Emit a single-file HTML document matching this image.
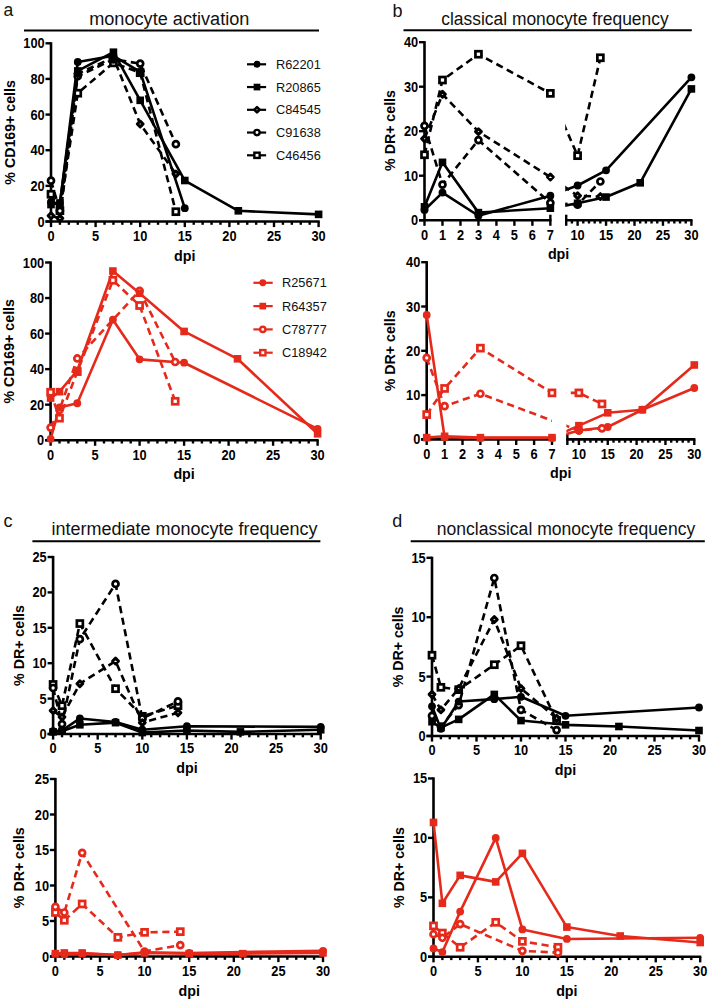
<!DOCTYPE html>
<html><head><meta charset="utf-8"><title>figure</title>
<style>
html,body{margin:0;padding:0;background:#fff;}
svg{display:block;}
text{font-family:"Liberation Sans", sans-serif;}
</style></head>
<body>
<svg width="709" height="1001" viewBox="0 0 709 1001" font-family='"Liberation Sans", sans-serif'>
<rect width="709" height="1001" fill="#fff"/>
<line x1="51" y1="42.2" x2="51" y2="221.5" stroke="#000" stroke-width="2.6"/>
<line x1="45.5" y1="221.5" x2="319.7" y2="221.5" stroke="#000" stroke-width="2.6"/>
<line x1="45.5" y1="221.5" x2="51" y2="221.5" stroke="#000" stroke-width="2.4"/>
<text transform="translate(44.6 226.5) scale(1 1.1)" font-size="12.8" font-weight="bold" text-anchor="end">0</text>
<line x1="45.5" y1="185.86" x2="51" y2="185.86" stroke="#000" stroke-width="2.4"/>
<text transform="translate(44.6 190.86) scale(1 1.1)" font-size="12.8" font-weight="bold" text-anchor="end">20</text>
<line x1="45.5" y1="150.22" x2="51" y2="150.22" stroke="#000" stroke-width="2.4"/>
<text transform="translate(44.6 155.22) scale(1 1.1)" font-size="12.8" font-weight="bold" text-anchor="end">40</text>
<line x1="45.5" y1="114.58" x2="51" y2="114.58" stroke="#000" stroke-width="2.4"/>
<text transform="translate(44.6 119.58) scale(1 1.1)" font-size="12.8" font-weight="bold" text-anchor="end">60</text>
<line x1="45.5" y1="78.94" x2="51" y2="78.94" stroke="#000" stroke-width="2.4"/>
<text transform="translate(44.6 83.94) scale(1 1.1)" font-size="12.8" font-weight="bold" text-anchor="end">80</text>
<line x1="45.5" y1="43.3" x2="51" y2="43.3" stroke="#000" stroke-width="2.4"/>
<text transform="translate(44.6 48.3) scale(1 1.1)" font-size="12.8" font-weight="bold" text-anchor="end">100</text>
<line x1="51" y1="221.5" x2="51" y2="227.1" stroke="#000" stroke-width="2.4"/>
<text transform="translate(51 240.9) scale(1 1.1)" font-size="12.8" font-weight="bold" text-anchor="middle">0</text>
<line x1="59.92" y1="221.5" x2="59.92" y2="224.8" stroke="#000" stroke-width="2.4"/>
<line x1="68.84" y1="221.5" x2="68.84" y2="224.8" stroke="#000" stroke-width="2.4"/>
<line x1="77.76" y1="221.5" x2="77.76" y2="224.8" stroke="#000" stroke-width="2.4"/>
<line x1="86.68" y1="221.5" x2="86.68" y2="224.8" stroke="#000" stroke-width="2.4"/>
<line x1="95.6" y1="221.5" x2="95.6" y2="227.1" stroke="#000" stroke-width="2.4"/>
<text transform="translate(95.6 240.9) scale(1 1.1)" font-size="12.8" font-weight="bold" text-anchor="middle">5</text>
<line x1="104.52" y1="221.5" x2="104.52" y2="224.8" stroke="#000" stroke-width="2.4"/>
<line x1="113.44" y1="221.5" x2="113.44" y2="224.8" stroke="#000" stroke-width="2.4"/>
<line x1="122.36" y1="221.5" x2="122.36" y2="224.8" stroke="#000" stroke-width="2.4"/>
<line x1="131.28" y1="221.5" x2="131.28" y2="224.8" stroke="#000" stroke-width="2.4"/>
<line x1="140.2" y1="221.5" x2="140.2" y2="227.1" stroke="#000" stroke-width="2.4"/>
<text transform="translate(140.2 240.9) scale(1 1.1)" font-size="12.8" font-weight="bold" text-anchor="middle">10</text>
<line x1="149.12" y1="221.5" x2="149.12" y2="224.8" stroke="#000" stroke-width="2.4"/>
<line x1="158.04" y1="221.5" x2="158.04" y2="224.8" stroke="#000" stroke-width="2.4"/>
<line x1="166.96" y1="221.5" x2="166.96" y2="224.8" stroke="#000" stroke-width="2.4"/>
<line x1="175.88" y1="221.5" x2="175.88" y2="224.8" stroke="#000" stroke-width="2.4"/>
<line x1="184.8" y1="221.5" x2="184.8" y2="227.1" stroke="#000" stroke-width="2.4"/>
<text transform="translate(184.8 240.9) scale(1 1.1)" font-size="12.8" font-weight="bold" text-anchor="middle">15</text>
<line x1="193.72" y1="221.5" x2="193.72" y2="224.8" stroke="#000" stroke-width="2.4"/>
<line x1="202.64" y1="221.5" x2="202.64" y2="224.8" stroke="#000" stroke-width="2.4"/>
<line x1="211.56" y1="221.5" x2="211.56" y2="224.8" stroke="#000" stroke-width="2.4"/>
<line x1="220.48" y1="221.5" x2="220.48" y2="224.8" stroke="#000" stroke-width="2.4"/>
<line x1="229.4" y1="221.5" x2="229.4" y2="227.1" stroke="#000" stroke-width="2.4"/>
<text transform="translate(229.4 240.9) scale(1 1.1)" font-size="12.8" font-weight="bold" text-anchor="middle">20</text>
<line x1="238.32" y1="221.5" x2="238.32" y2="224.8" stroke="#000" stroke-width="2.4"/>
<line x1="247.24" y1="221.5" x2="247.24" y2="224.8" stroke="#000" stroke-width="2.4"/>
<line x1="256.16" y1="221.5" x2="256.16" y2="224.8" stroke="#000" stroke-width="2.4"/>
<line x1="265.08" y1="221.5" x2="265.08" y2="224.8" stroke="#000" stroke-width="2.4"/>
<line x1="274" y1="221.5" x2="274" y2="227.1" stroke="#000" stroke-width="2.4"/>
<text transform="translate(274 240.9) scale(1 1.1)" font-size="12.8" font-weight="bold" text-anchor="middle">25</text>
<line x1="282.92" y1="221.5" x2="282.92" y2="224.8" stroke="#000" stroke-width="2.4"/>
<line x1="291.84" y1="221.5" x2="291.84" y2="224.8" stroke="#000" stroke-width="2.4"/>
<line x1="300.76" y1="221.5" x2="300.76" y2="224.8" stroke="#000" stroke-width="2.4"/>
<line x1="309.68" y1="221.5" x2="309.68" y2="224.8" stroke="#000" stroke-width="2.4"/>
<line x1="318.6" y1="221.5" x2="318.6" y2="227.1" stroke="#000" stroke-width="2.4"/>
<text transform="translate(318.6 240.9) scale(1 1.1)" font-size="12.8" font-weight="bold" text-anchor="middle">30</text>
<text transform="translate(184.8 260.5) scale(1 1)" font-size="14.3" font-weight="bold" text-anchor="middle">dpi</text>
<text transform="translate(14.6 132.4) rotate(-90)" font-size="14.2" font-weight="bold" text-anchor="middle">% CD169+ cells</text>
<polyline points="51,194.24 59.92,210.63 77.76,93.2 113.44,62.9 140.2,72.7 175.88,211.7" fill="none" stroke="#000" stroke-width="2.6" stroke-linejoin="round" stroke-dasharray="7.2 4.6"/>
<polyline points="51,180.69 59.92,210.81 77.76,76.27 113.44,59.34 140.2,63.61 175.88,144.16" fill="none" stroke="#000" stroke-width="2.6" stroke-linejoin="round" stroke-dasharray="7.2 4.6"/>
<polyline points="51,215.8 59.92,218.29 77.76,73.59 113.44,57.56 140.2,124.02 175.88,173.92" fill="none" stroke="#000" stroke-width="2.6" stroke-linejoin="round" stroke-dasharray="7.2 4.6"/>
<polyline points="51,204.57 59.92,202.97 77.76,70.92 113.44,52.21 140.2,100.32 184.8,180.51 238.32,210.81 318.6,214.37" fill="none" stroke="#000" stroke-width="2.6" stroke-linejoin="round"/>
<polyline points="51,201.9 59.92,203.68 77.76,62.01 113.44,55.77 140.2,71.81 184.8,208.13" fill="none" stroke="#000" stroke-width="2.6" stroke-linejoin="round"/>
<rect x="48" y="191.24" width="6" height="6" fill="#fff" stroke="#000" stroke-width="2.7"/>
<rect x="56.92" y="207.63" width="6" height="6" fill="#fff" stroke="#000" stroke-width="2.7"/>
<rect x="74.76" y="90.2" width="6" height="6" fill="#fff" stroke="#000" stroke-width="2.7"/>
<rect x="110.44" y="59.9" width="6" height="6" fill="#fff" stroke="#000" stroke-width="2.7"/>
<rect x="137.2" y="69.7" width="6" height="6" fill="#fff" stroke="#000" stroke-width="2.7"/>
<rect x="172.88" y="208.7" width="6" height="6" fill="#fff" stroke="#000" stroke-width="2.7"/>
<circle cx="51" cy="180.69" r="3" fill="#fff" stroke="#000" stroke-width="2.7"/>
<circle cx="59.92" cy="210.81" r="3" fill="#fff" stroke="#000" stroke-width="2.7"/>
<circle cx="77.76" cy="76.27" r="3" fill="#fff" stroke="#000" stroke-width="2.7"/>
<circle cx="113.44" cy="59.34" r="3" fill="#fff" stroke="#000" stroke-width="2.7"/>
<circle cx="140.2" cy="63.61" r="3" fill="#fff" stroke="#000" stroke-width="2.7"/>
<circle cx="175.88" cy="144.16" r="3" fill="#fff" stroke="#000" stroke-width="2.7"/>
<path d="M51 212.9L53.9 215.8L51 218.7L48.1 215.8Z" fill="#fff" stroke="#000" stroke-width="3" stroke-linejoin="round"/>
<path d="M59.92 215.39L62.82 218.29L59.92 221.19L57.02 218.29Z" fill="#fff" stroke="#000" stroke-width="3" stroke-linejoin="round"/>
<path d="M77.76 70.69L80.66 73.59L77.76 76.49L74.86 73.59Z" fill="#fff" stroke="#000" stroke-width="3" stroke-linejoin="round"/>
<path d="M113.44 54.66L116.34 57.56L113.44 60.46L110.54 57.56Z" fill="#fff" stroke="#000" stroke-width="3" stroke-linejoin="round"/>
<path d="M140.2 121.12L143.1 124.02L140.2 126.92L137.3 124.02Z" fill="#fff" stroke="#000" stroke-width="3" stroke-linejoin="round"/>
<path d="M175.88 171.02L178.78 173.92L175.88 176.82L172.98 173.92Z" fill="#fff" stroke="#000" stroke-width="3" stroke-linejoin="round"/>
<rect x="47.2" y="200.77" width="7.6" height="7.6" fill="#000"/>
<rect x="56.12" y="199.17" width="7.6" height="7.6" fill="#000"/>
<rect x="73.96" y="67.12" width="7.6" height="7.6" fill="#000"/>
<rect x="109.64" y="48.41" width="7.6" height="7.6" fill="#000"/>
<rect x="136.4" y="96.52" width="7.6" height="7.6" fill="#000"/>
<rect x="181" y="176.71" width="7.6" height="7.6" fill="#000"/>
<rect x="234.52" y="207.01" width="7.6" height="7.6" fill="#000"/>
<rect x="314.8" y="210.57" width="7.6" height="7.6" fill="#000"/>
<circle cx="51" cy="201.9" r="3.9" fill="#000"/>
<circle cx="59.92" cy="203.68" r="3.9" fill="#000"/>
<circle cx="77.76" cy="62.01" r="3.9" fill="#000"/>
<circle cx="113.44" cy="55.77" r="3.9" fill="#000"/>
<circle cx="140.2" cy="71.81" r="3.9" fill="#000"/>
<circle cx="184.8" cy="208.13" r="3.9" fill="#000"/>
<line x1="50.6" y1="261.4" x2="50.6" y2="440.2" stroke="#000" stroke-width="2.6"/>
<line x1="45.1" y1="440.2" x2="318.7" y2="440.2" stroke="#000" stroke-width="2.6"/>
<line x1="45.1" y1="440.2" x2="50.6" y2="440.2" stroke="#000" stroke-width="2.4"/>
<text transform="translate(44.2 445.2) scale(1 1.1)" font-size="12.8" font-weight="bold" text-anchor="end">0</text>
<line x1="45.1" y1="404.66" x2="50.6" y2="404.66" stroke="#000" stroke-width="2.4"/>
<text transform="translate(44.2 409.66) scale(1 1.1)" font-size="12.8" font-weight="bold" text-anchor="end">20</text>
<line x1="45.1" y1="369.12" x2="50.6" y2="369.12" stroke="#000" stroke-width="2.4"/>
<text transform="translate(44.2 374.12) scale(1 1.1)" font-size="12.8" font-weight="bold" text-anchor="end">40</text>
<line x1="45.1" y1="333.58" x2="50.6" y2="333.58" stroke="#000" stroke-width="2.4"/>
<text transform="translate(44.2 338.58) scale(1 1.1)" font-size="12.8" font-weight="bold" text-anchor="end">60</text>
<line x1="45.1" y1="298.04" x2="50.6" y2="298.04" stroke="#000" stroke-width="2.4"/>
<text transform="translate(44.2 303.04) scale(1 1.1)" font-size="12.8" font-weight="bold" text-anchor="end">80</text>
<line x1="45.1" y1="262.5" x2="50.6" y2="262.5" stroke="#000" stroke-width="2.4"/>
<text transform="translate(44.2 267.5) scale(1 1.1)" font-size="12.8" font-weight="bold" text-anchor="end">100</text>
<line x1="50.6" y1="440.2" x2="50.6" y2="445.8" stroke="#000" stroke-width="2.4"/>
<text transform="translate(50.6 459.6) scale(1 1.1)" font-size="12.8" font-weight="bold" text-anchor="middle">0</text>
<line x1="59.5" y1="440.2" x2="59.5" y2="443.5" stroke="#000" stroke-width="2.4"/>
<line x1="68.4" y1="440.2" x2="68.4" y2="443.5" stroke="#000" stroke-width="2.4"/>
<line x1="77.3" y1="440.2" x2="77.3" y2="443.5" stroke="#000" stroke-width="2.4"/>
<line x1="86.2" y1="440.2" x2="86.2" y2="443.5" stroke="#000" stroke-width="2.4"/>
<line x1="95.1" y1="440.2" x2="95.1" y2="445.8" stroke="#000" stroke-width="2.4"/>
<text transform="translate(95.1 459.6) scale(1 1.1)" font-size="12.8" font-weight="bold" text-anchor="middle">5</text>
<line x1="104" y1="440.2" x2="104" y2="443.5" stroke="#000" stroke-width="2.4"/>
<line x1="112.9" y1="440.2" x2="112.9" y2="443.5" stroke="#000" stroke-width="2.4"/>
<line x1="121.8" y1="440.2" x2="121.8" y2="443.5" stroke="#000" stroke-width="2.4"/>
<line x1="130.7" y1="440.2" x2="130.7" y2="443.5" stroke="#000" stroke-width="2.4"/>
<line x1="139.6" y1="440.2" x2="139.6" y2="445.8" stroke="#000" stroke-width="2.4"/>
<text transform="translate(139.6 459.6) scale(1 1.1)" font-size="12.8" font-weight="bold" text-anchor="middle">10</text>
<line x1="148.5" y1="440.2" x2="148.5" y2="443.5" stroke="#000" stroke-width="2.4"/>
<line x1="157.4" y1="440.2" x2="157.4" y2="443.5" stroke="#000" stroke-width="2.4"/>
<line x1="166.3" y1="440.2" x2="166.3" y2="443.5" stroke="#000" stroke-width="2.4"/>
<line x1="175.2" y1="440.2" x2="175.2" y2="443.5" stroke="#000" stroke-width="2.4"/>
<line x1="184.1" y1="440.2" x2="184.1" y2="445.8" stroke="#000" stroke-width="2.4"/>
<text transform="translate(184.1 459.6) scale(1 1.1)" font-size="12.8" font-weight="bold" text-anchor="middle">15</text>
<line x1="193" y1="440.2" x2="193" y2="443.5" stroke="#000" stroke-width="2.4"/>
<line x1="201.9" y1="440.2" x2="201.9" y2="443.5" stroke="#000" stroke-width="2.4"/>
<line x1="210.8" y1="440.2" x2="210.8" y2="443.5" stroke="#000" stroke-width="2.4"/>
<line x1="219.7" y1="440.2" x2="219.7" y2="443.5" stroke="#000" stroke-width="2.4"/>
<line x1="228.6" y1="440.2" x2="228.6" y2="445.8" stroke="#000" stroke-width="2.4"/>
<text transform="translate(228.6 459.6) scale(1 1.1)" font-size="12.8" font-weight="bold" text-anchor="middle">20</text>
<line x1="237.5" y1="440.2" x2="237.5" y2="443.5" stroke="#000" stroke-width="2.4"/>
<line x1="246.4" y1="440.2" x2="246.4" y2="443.5" stroke="#000" stroke-width="2.4"/>
<line x1="255.3" y1="440.2" x2="255.3" y2="443.5" stroke="#000" stroke-width="2.4"/>
<line x1="264.2" y1="440.2" x2="264.2" y2="443.5" stroke="#000" stroke-width="2.4"/>
<line x1="273.1" y1="440.2" x2="273.1" y2="445.8" stroke="#000" stroke-width="2.4"/>
<text transform="translate(273.1 459.6) scale(1 1.1)" font-size="12.8" font-weight="bold" text-anchor="middle">25</text>
<line x1="282" y1="440.2" x2="282" y2="443.5" stroke="#000" stroke-width="2.4"/>
<line x1="290.9" y1="440.2" x2="290.9" y2="443.5" stroke="#000" stroke-width="2.4"/>
<line x1="299.8" y1="440.2" x2="299.8" y2="443.5" stroke="#000" stroke-width="2.4"/>
<line x1="308.7" y1="440.2" x2="308.7" y2="443.5" stroke="#000" stroke-width="2.4"/>
<line x1="317.6" y1="440.2" x2="317.6" y2="445.8" stroke="#000" stroke-width="2.4"/>
<text transform="translate(317.6 459.6) scale(1 1.1)" font-size="12.8" font-weight="bold" text-anchor="middle">30</text>
<text transform="translate(184.1 479.2) scale(1 1)" font-size="14.3" font-weight="bold" text-anchor="middle">dpi</text>
<text transform="translate(14.4 351.35) rotate(-90)" font-size="14.2" font-weight="bold" text-anchor="middle">% CD169+ cells</text>
<polyline points="50.6,392.22 59.5,418.17 77.3,371.61 112.9,280.27 139.6,305.5 175.2,401.28" fill="none" stroke="#e52a1b" stroke-width="2.6" stroke-linejoin="round" stroke-dasharray="7.2 4.6"/>
<polyline points="50.6,427.58 59.5,409.99 77.3,358.46 139.6,290.75 175.2,362.01" fill="none" stroke="#e52a1b" stroke-width="2.6" stroke-linejoin="round" stroke-dasharray="7.2 4.6"/>
<polyline points="50.6,398.09 59.5,391.69 77.3,370.54 112.9,271.03 139.6,293.24 184.1,331.45 237.5,358.81 317.6,433.8" fill="none" stroke="#e52a1b" stroke-width="2.6" stroke-linejoin="round"/>
<polyline points="50.6,438.78 59.5,407.5 77.3,403.24 112.9,319.72 139.6,359.35 184.1,362.72 317.6,428.83" fill="none" stroke="#e52a1b" stroke-width="2.6" stroke-linejoin="round"/>
<rect x="47.6" y="389.22" width="6" height="6" fill="#fff" stroke="#e52a1b" stroke-width="2.7"/>
<rect x="56.5" y="415.17" width="6" height="6" fill="#fff" stroke="#e52a1b" stroke-width="2.7"/>
<rect x="74.3" y="368.61" width="6" height="6" fill="#fff" stroke="#e52a1b" stroke-width="2.7"/>
<rect x="109.9" y="277.27" width="6" height="6" fill="#fff" stroke="#e52a1b" stroke-width="2.7"/>
<rect x="136.6" y="302.5" width="6" height="6" fill="#fff" stroke="#e52a1b" stroke-width="2.7"/>
<rect x="172.2" y="398.28" width="6" height="6" fill="#fff" stroke="#e52a1b" stroke-width="2.7"/>
<circle cx="50.6" cy="427.58" r="3" fill="#fff" stroke="#e52a1b" stroke-width="2.7"/>
<circle cx="59.5" cy="409.99" r="3" fill="#fff" stroke="#e52a1b" stroke-width="2.7"/>
<circle cx="77.3" cy="358.46" r="3" fill="#fff" stroke="#e52a1b" stroke-width="2.7"/>
<circle cx="139.6" cy="290.75" r="3" fill="#fff" stroke="#e52a1b" stroke-width="2.7"/>
<circle cx="175.2" cy="362.01" r="3" fill="#fff" stroke="#e52a1b" stroke-width="2.7"/>
<rect x="46.8" y="394.29" width="7.6" height="7.6" fill="#e52a1b"/>
<rect x="55.7" y="387.89" width="7.6" height="7.6" fill="#e52a1b"/>
<rect x="73.5" y="366.74" width="7.6" height="7.6" fill="#e52a1b"/>
<rect x="109.1" y="267.23" width="7.6" height="7.6" fill="#e52a1b"/>
<rect x="135.8" y="289.44" width="7.6" height="7.6" fill="#e52a1b"/>
<rect x="180.3" y="327.65" width="7.6" height="7.6" fill="#e52a1b"/>
<rect x="233.7" y="355.01" width="7.6" height="7.6" fill="#e52a1b"/>
<rect x="313.8" y="430" width="7.6" height="7.6" fill="#e52a1b"/>
<circle cx="50.6" cy="438.78" r="3.9" fill="#e52a1b"/>
<circle cx="59.5" cy="407.5" r="3.9" fill="#e52a1b"/>
<circle cx="77.3" cy="403.24" r="3.9" fill="#e52a1b"/>
<circle cx="112.9" cy="319.72" r="3.9" fill="#e52a1b"/>
<circle cx="139.6" cy="359.35" r="3.9" fill="#e52a1b"/>
<circle cx="184.1" cy="362.72" r="3.9" fill="#e52a1b"/>
<circle cx="317.6" cy="428.83" r="3.9" fill="#e52a1b"/>
<clipPath id="clbt"><rect x="0" y="22.2" width="550.36" height="218"/></clipPath>
<clipPath id="crbt"><rect x="565.22" y="22.2" width="142.78" height="218"/></clipPath>
<line x1="424.5" y1="41.1" x2="424.5" y2="220.2" stroke="#000" stroke-width="2.6"/>
<line x1="419" y1="220.2" x2="551.46" y2="220.2" stroke="#000" stroke-width="2.6"/>
<line x1="565.12" y1="220.2" x2="692.5" y2="220.2" stroke="#000" stroke-width="2.6"/>
<line x1="419" y1="220.2" x2="424.5" y2="220.2" stroke="#000" stroke-width="2.4"/>
<text transform="translate(418.1 225.2) scale(1 1.1)" font-size="12.8" font-weight="bold" text-anchor="end">0</text>
<line x1="419" y1="175.7" x2="424.5" y2="175.7" stroke="#000" stroke-width="2.4"/>
<text transform="translate(418.1 180.7) scale(1 1.1)" font-size="12.8" font-weight="bold" text-anchor="end">10</text>
<line x1="419" y1="131.2" x2="424.5" y2="131.2" stroke="#000" stroke-width="2.4"/>
<text transform="translate(418.1 136.2) scale(1 1.1)" font-size="12.8" font-weight="bold" text-anchor="end">20</text>
<line x1="419" y1="86.7" x2="424.5" y2="86.7" stroke="#000" stroke-width="2.4"/>
<text transform="translate(418.1 91.7) scale(1 1.1)" font-size="12.8" font-weight="bold" text-anchor="end">30</text>
<line x1="419" y1="42.2" x2="424.5" y2="42.2" stroke="#000" stroke-width="2.4"/>
<text transform="translate(418.1 47.2) scale(1 1.1)" font-size="12.8" font-weight="bold" text-anchor="end">40</text>
<line x1="424.5" y1="220.2" x2="424.5" y2="225.8" stroke="#000" stroke-width="2.4"/>
<text transform="translate(424.5 239.6) scale(1 1.1)" font-size="12.8" font-weight="bold" text-anchor="middle">0</text>
<line x1="442.48" y1="220.2" x2="442.48" y2="225.8" stroke="#000" stroke-width="2.4"/>
<text transform="translate(442.48 239.6) scale(1 1.1)" font-size="12.8" font-weight="bold" text-anchor="middle">1</text>
<line x1="460.46" y1="220.2" x2="460.46" y2="225.8" stroke="#000" stroke-width="2.4"/>
<text transform="translate(460.46 239.6) scale(1 1.1)" font-size="12.8" font-weight="bold" text-anchor="middle">2</text>
<line x1="478.44" y1="220.2" x2="478.44" y2="225.8" stroke="#000" stroke-width="2.4"/>
<text transform="translate(478.44 239.6) scale(1 1.1)" font-size="12.8" font-weight="bold" text-anchor="middle">3</text>
<line x1="496.42" y1="220.2" x2="496.42" y2="225.8" stroke="#000" stroke-width="2.4"/>
<text transform="translate(496.42 239.6) scale(1 1.1)" font-size="12.8" font-weight="bold" text-anchor="middle">4</text>
<line x1="514.4" y1="220.2" x2="514.4" y2="225.8" stroke="#000" stroke-width="2.4"/>
<text transform="translate(514.4 239.6) scale(1 1.1)" font-size="12.8" font-weight="bold" text-anchor="middle">5</text>
<line x1="532.38" y1="220.2" x2="532.38" y2="225.8" stroke="#000" stroke-width="2.4"/>
<text transform="translate(532.38 239.6) scale(1 1.1)" font-size="12.8" font-weight="bold" text-anchor="middle">6</text>
<line x1="550.36" y1="214.7" x2="550.36" y2="225.8" stroke="#000" stroke-width="2.4"/>
<text transform="translate(550.36 239.6) scale(1 1.1)" font-size="12.8" font-weight="bold" text-anchor="middle">7</text>
<line x1="566.22" y1="214.7" x2="566.22" y2="225.8" stroke="#000" stroke-width="2.4"/>
<line x1="571.91" y1="220.2" x2="571.91" y2="223.5" stroke="#000" stroke-width="2.4"/>
<line x1="577.6" y1="220.2" x2="577.6" y2="225.8" stroke="#000" stroke-width="2.4"/>
<text transform="translate(577.6 239.6) scale(1 1.1)" font-size="12.8" font-weight="bold" text-anchor="middle">10</text>
<line x1="583.29" y1="220.2" x2="583.29" y2="223.5" stroke="#000" stroke-width="2.4"/>
<line x1="588.98" y1="220.2" x2="588.98" y2="223.5" stroke="#000" stroke-width="2.4"/>
<line x1="594.67" y1="220.2" x2="594.67" y2="223.5" stroke="#000" stroke-width="2.4"/>
<line x1="600.36" y1="220.2" x2="600.36" y2="223.5" stroke="#000" stroke-width="2.4"/>
<line x1="606.05" y1="220.2" x2="606.05" y2="225.8" stroke="#000" stroke-width="2.4"/>
<text transform="translate(606.05 239.6) scale(1 1.1)" font-size="12.8" font-weight="bold" text-anchor="middle">15</text>
<line x1="611.74" y1="220.2" x2="611.74" y2="223.5" stroke="#000" stroke-width="2.4"/>
<line x1="617.43" y1="220.2" x2="617.43" y2="223.5" stroke="#000" stroke-width="2.4"/>
<line x1="623.12" y1="220.2" x2="623.12" y2="223.5" stroke="#000" stroke-width="2.4"/>
<line x1="628.81" y1="220.2" x2="628.81" y2="223.5" stroke="#000" stroke-width="2.4"/>
<line x1="634.5" y1="220.2" x2="634.5" y2="225.8" stroke="#000" stroke-width="2.4"/>
<text transform="translate(634.5 239.6) scale(1 1.1)" font-size="12.8" font-weight="bold" text-anchor="middle">20</text>
<line x1="640.19" y1="220.2" x2="640.19" y2="223.5" stroke="#000" stroke-width="2.4"/>
<line x1="645.88" y1="220.2" x2="645.88" y2="223.5" stroke="#000" stroke-width="2.4"/>
<line x1="651.57" y1="220.2" x2="651.57" y2="223.5" stroke="#000" stroke-width="2.4"/>
<line x1="657.26" y1="220.2" x2="657.26" y2="223.5" stroke="#000" stroke-width="2.4"/>
<line x1="662.95" y1="220.2" x2="662.95" y2="225.8" stroke="#000" stroke-width="2.4"/>
<text transform="translate(662.95 239.6) scale(1 1.1)" font-size="12.8" font-weight="bold" text-anchor="middle">25</text>
<line x1="668.64" y1="220.2" x2="668.64" y2="223.5" stroke="#000" stroke-width="2.4"/>
<line x1="674.33" y1="220.2" x2="674.33" y2="223.5" stroke="#000" stroke-width="2.4"/>
<line x1="680.02" y1="220.2" x2="680.02" y2="223.5" stroke="#000" stroke-width="2.4"/>
<line x1="685.71" y1="220.2" x2="685.71" y2="223.5" stroke="#000" stroke-width="2.4"/>
<line x1="691.4" y1="220.2" x2="691.4" y2="225.8" stroke="#000" stroke-width="2.4"/>
<text transform="translate(691.4 239.6) scale(1 1.1)" font-size="12.8" font-weight="bold" text-anchor="middle">30</text>
<text transform="translate(558.6 259.2) scale(1 1)" font-size="14.3" font-weight="bold" text-anchor="middle">dpi</text>
<text transform="translate(394.6 130.5) rotate(-90)" font-size="14.2" font-weight="bold" text-anchor="middle">% DR+ cells</text>
<polyline clip-path="url(#clbt)" points="424.5,154.78 442.48,80.02 478.44,54.22 550.36,93.37 577.6,155.67 600.36,57.77" fill="none" stroke="#000" stroke-width="2.6" stroke-linejoin="round" stroke-dasharray="7.2 4.6"/>
<polyline clip-path="url(#crbt)" points="424.5,154.78 442.48,80.02 478.44,54.22 550.36,93.37 577.6,155.67 600.36,57.77" fill="none" stroke="#000" stroke-width="2.6" stroke-linejoin="round" stroke-dasharray="7.2 4.6"/>
<polyline clip-path="url(#clbt)" points="424.5,125.86 442.48,184.6 478.44,140.1 550.36,202.84 577.6,204.62 600.36,181.48" fill="none" stroke="#000" stroke-width="2.6" stroke-linejoin="round" stroke-dasharray="7.2 4.6"/>
<polyline clip-path="url(#crbt)" points="424.5,125.86 442.48,184.6 478.44,140.1 550.36,202.84 577.6,204.62 600.36,181.48" fill="none" stroke="#000" stroke-width="2.6" stroke-linejoin="round" stroke-dasharray="7.2 4.6"/>
<polyline clip-path="url(#clbt)" points="424.5,138.76 442.48,94.26 478.44,131.64 550.36,177.03 577.6,195.72 600.36,196.61" fill="none" stroke="#000" stroke-width="2.6" stroke-linejoin="round" stroke-dasharray="7.2 4.6"/>
<polyline clip-path="url(#crbt)" points="424.5,138.76 442.48,94.26 478.44,131.64 550.36,177.03 577.6,195.72 600.36,196.61" fill="none" stroke="#000" stroke-width="2.6" stroke-linejoin="round" stroke-dasharray="7.2 4.6"/>
<polyline clip-path="url(#clbt)" points="424.5,206.85 442.48,162.35 478.44,212.63 550.36,208.19 577.6,203.29 606.05,197.06 640.19,182.82 691.4,88.92" fill="none" stroke="#000" stroke-width="2.6" stroke-linejoin="round"/>
<polyline clip-path="url(#crbt)" points="424.5,206.85 442.48,162.35 478.44,212.63 550.36,208.19 577.6,203.29 606.05,197.06 640.19,182.82 691.4,88.92" fill="none" stroke="#000" stroke-width="2.6" stroke-linejoin="round"/>
<polyline clip-path="url(#clbt)" points="424.5,209.96 442.48,192.61 478.44,215.75 550.36,195.72 577.6,185.49 606.05,170.36 691.4,77.35" fill="none" stroke="#000" stroke-width="2.6" stroke-linejoin="round"/>
<polyline clip-path="url(#crbt)" points="424.5,209.96 442.48,192.61 478.44,215.75 550.36,195.72 577.6,185.49 606.05,170.36 691.4,77.35" fill="none" stroke="#000" stroke-width="2.6" stroke-linejoin="round"/>
<rect x="421.5" y="151.78" width="6" height="6" fill="#fff" stroke="#000" stroke-width="2.7"/>
<rect x="439.48" y="77.02" width="6" height="6" fill="#fff" stroke="#000" stroke-width="2.7"/>
<rect x="475.44" y="51.22" width="6" height="6" fill="#fff" stroke="#000" stroke-width="2.7"/>
<rect x="547.36" y="90.37" width="6" height="6" fill="#fff" stroke="#000" stroke-width="2.7"/>
<rect x="574.6" y="152.67" width="6" height="6" fill="#fff" stroke="#000" stroke-width="2.7"/>
<rect x="597.36" y="54.77" width="6" height="6" fill="#fff" stroke="#000" stroke-width="2.7"/>
<circle cx="424.5" cy="125.86" r="3" fill="#fff" stroke="#000" stroke-width="2.7"/>
<circle cx="442.48" cy="184.6" r="3" fill="#fff" stroke="#000" stroke-width="2.7"/>
<circle cx="478.44" cy="140.1" r="3" fill="#fff" stroke="#000" stroke-width="2.7"/>
<circle cx="550.36" cy="202.84" r="3" fill="#fff" stroke="#000" stroke-width="2.7"/>
<circle cx="577.6" cy="204.62" r="3" fill="#fff" stroke="#000" stroke-width="2.7"/>
<circle cx="600.36" cy="181.48" r="3" fill="#fff" stroke="#000" stroke-width="2.7"/>
<path d="M424.5 135.86L427.4 138.76L424.5 141.66L421.6 138.76Z" fill="#fff" stroke="#000" stroke-width="3" stroke-linejoin="round"/>
<path d="M442.48 91.36L445.38 94.26L442.48 97.16L439.58 94.26Z" fill="#fff" stroke="#000" stroke-width="3" stroke-linejoin="round"/>
<path d="M478.44 128.74L481.34 131.64L478.44 134.54L475.54 131.64Z" fill="#fff" stroke="#000" stroke-width="3" stroke-linejoin="round"/>
<path d="M550.36 174.13L553.26 177.03L550.36 179.94L547.46 177.03Z" fill="#fff" stroke="#000" stroke-width="3" stroke-linejoin="round"/>
<path d="M577.6 192.82L580.5 195.72L577.6 198.62L574.7 195.72Z" fill="#fff" stroke="#000" stroke-width="3" stroke-linejoin="round"/>
<path d="M600.36 193.71L603.26 196.61L600.36 199.51L597.46 196.61Z" fill="#fff" stroke="#000" stroke-width="3" stroke-linejoin="round"/>
<rect x="420.7" y="203.05" width="7.6" height="7.6" fill="#000"/>
<rect x="438.68" y="158.55" width="7.6" height="7.6" fill="#000"/>
<rect x="474.64" y="208.83" width="7.6" height="7.6" fill="#000"/>
<rect x="546.56" y="204.38" width="7.6" height="7.6" fill="#000"/>
<rect x="573.8" y="199.49" width="7.6" height="7.6" fill="#000"/>
<rect x="602.25" y="193.26" width="7.6" height="7.6" fill="#000"/>
<rect x="636.39" y="179.02" width="7.6" height="7.6" fill="#000"/>
<rect x="687.6" y="85.12" width="7.6" height="7.6" fill="#000"/>
<circle cx="424.5" cy="209.96" r="3.9" fill="#000"/>
<circle cx="442.48" cy="192.61" r="3.9" fill="#000"/>
<circle cx="478.44" cy="215.75" r="3.9" fill="#000"/>
<circle cx="550.36" cy="195.72" r="3.9" fill="#000"/>
<circle cx="577.6" cy="185.49" r="3.9" fill="#000"/>
<circle cx="606.05" cy="170.36" r="3.9" fill="#000"/>
<circle cx="691.4" cy="77.35" r="3.9" fill="#000"/>
<clipPath id="clbb"><rect x="0" y="242.2" width="552" height="217.2"/></clipPath>
<clipPath id="crbb"><rect x="566.36" y="242.2" width="141.64" height="217.2"/></clipPath>
<line x1="426.7" y1="261.1" x2="426.7" y2="439.4" stroke="#000" stroke-width="2.6"/>
<line x1="421.2" y1="439.4" x2="553.1" y2="439.4" stroke="#000" stroke-width="2.6"/>
<line x1="566.26" y1="439.4" x2="695.4" y2="439.4" stroke="#000" stroke-width="2.6"/>
<line x1="421.2" y1="439.4" x2="426.7" y2="439.4" stroke="#000" stroke-width="2.4"/>
<text transform="translate(420.3 444.4) scale(1 1.1)" font-size="12.8" font-weight="bold" text-anchor="end">0</text>
<line x1="421.2" y1="395.1" x2="426.7" y2="395.1" stroke="#000" stroke-width="2.4"/>
<text transform="translate(420.3 400.1) scale(1 1.1)" font-size="12.8" font-weight="bold" text-anchor="end">10</text>
<line x1="421.2" y1="350.8" x2="426.7" y2="350.8" stroke="#000" stroke-width="2.4"/>
<text transform="translate(420.3 355.8) scale(1 1.1)" font-size="12.8" font-weight="bold" text-anchor="end">20</text>
<line x1="421.2" y1="306.5" x2="426.7" y2="306.5" stroke="#000" stroke-width="2.4"/>
<text transform="translate(420.3 311.5) scale(1 1.1)" font-size="12.8" font-weight="bold" text-anchor="end">30</text>
<line x1="421.2" y1="262.2" x2="426.7" y2="262.2" stroke="#000" stroke-width="2.4"/>
<text transform="translate(420.3 267.2) scale(1 1.1)" font-size="12.8" font-weight="bold" text-anchor="end">40</text>
<line x1="426.7" y1="439.4" x2="426.7" y2="445" stroke="#000" stroke-width="2.4"/>
<text transform="translate(426.7 458.8) scale(1 1.1)" font-size="12.8" font-weight="bold" text-anchor="middle">0</text>
<line x1="444.6" y1="439.4" x2="444.6" y2="445" stroke="#000" stroke-width="2.4"/>
<text transform="translate(444.6 458.8) scale(1 1.1)" font-size="12.8" font-weight="bold" text-anchor="middle">1</text>
<line x1="462.5" y1="439.4" x2="462.5" y2="445" stroke="#000" stroke-width="2.4"/>
<text transform="translate(462.5 458.8) scale(1 1.1)" font-size="12.8" font-weight="bold" text-anchor="middle">2</text>
<line x1="480.4" y1="439.4" x2="480.4" y2="445" stroke="#000" stroke-width="2.4"/>
<text transform="translate(480.4 458.8) scale(1 1.1)" font-size="12.8" font-weight="bold" text-anchor="middle">3</text>
<line x1="498.3" y1="439.4" x2="498.3" y2="445" stroke="#000" stroke-width="2.4"/>
<text transform="translate(498.3 458.8) scale(1 1.1)" font-size="12.8" font-weight="bold" text-anchor="middle">4</text>
<line x1="516.2" y1="439.4" x2="516.2" y2="445" stroke="#000" stroke-width="2.4"/>
<text transform="translate(516.2 458.8) scale(1 1.1)" font-size="12.8" font-weight="bold" text-anchor="middle">5</text>
<line x1="534.1" y1="439.4" x2="534.1" y2="445" stroke="#000" stroke-width="2.4"/>
<text transform="translate(534.1 458.8) scale(1 1.1)" font-size="12.8" font-weight="bold" text-anchor="middle">6</text>
<line x1="552" y1="439.4" x2="552" y2="445" stroke="#000" stroke-width="2.4"/>
<text transform="translate(552 458.8) scale(1 1.1)" font-size="12.8" font-weight="bold" text-anchor="middle">7</text>
<line x1="567.36" y1="433.9" x2="567.36" y2="445" stroke="#000" stroke-width="2.4"/>
<line x1="573.13" y1="439.4" x2="573.13" y2="442.7" stroke="#000" stroke-width="2.4"/>
<line x1="578.9" y1="439.4" x2="578.9" y2="445" stroke="#000" stroke-width="2.4"/>
<text transform="translate(578.9 458.8) scale(1 1.1)" font-size="12.8" font-weight="bold" text-anchor="middle">10</text>
<line x1="584.67" y1="439.4" x2="584.67" y2="442.7" stroke="#000" stroke-width="2.4"/>
<line x1="590.44" y1="439.4" x2="590.44" y2="442.7" stroke="#000" stroke-width="2.4"/>
<line x1="596.21" y1="439.4" x2="596.21" y2="442.7" stroke="#000" stroke-width="2.4"/>
<line x1="601.98" y1="439.4" x2="601.98" y2="442.7" stroke="#000" stroke-width="2.4"/>
<line x1="607.75" y1="439.4" x2="607.75" y2="445" stroke="#000" stroke-width="2.4"/>
<text transform="translate(607.75 458.8) scale(1 1.1)" font-size="12.8" font-weight="bold" text-anchor="middle">15</text>
<line x1="613.52" y1="439.4" x2="613.52" y2="442.7" stroke="#000" stroke-width="2.4"/>
<line x1="619.29" y1="439.4" x2="619.29" y2="442.7" stroke="#000" stroke-width="2.4"/>
<line x1="625.06" y1="439.4" x2="625.06" y2="442.7" stroke="#000" stroke-width="2.4"/>
<line x1="630.83" y1="439.4" x2="630.83" y2="442.7" stroke="#000" stroke-width="2.4"/>
<line x1="636.6" y1="439.4" x2="636.6" y2="445" stroke="#000" stroke-width="2.4"/>
<text transform="translate(636.6 458.8) scale(1 1.1)" font-size="12.8" font-weight="bold" text-anchor="middle">20</text>
<line x1="642.37" y1="439.4" x2="642.37" y2="442.7" stroke="#000" stroke-width="2.4"/>
<line x1="648.14" y1="439.4" x2="648.14" y2="442.7" stroke="#000" stroke-width="2.4"/>
<line x1="653.91" y1="439.4" x2="653.91" y2="442.7" stroke="#000" stroke-width="2.4"/>
<line x1="659.68" y1="439.4" x2="659.68" y2="442.7" stroke="#000" stroke-width="2.4"/>
<line x1="665.45" y1="439.4" x2="665.45" y2="445" stroke="#000" stroke-width="2.4"/>
<text transform="translate(665.45 458.8) scale(1 1.1)" font-size="12.8" font-weight="bold" text-anchor="middle">25</text>
<line x1="671.22" y1="439.4" x2="671.22" y2="442.7" stroke="#000" stroke-width="2.4"/>
<line x1="676.99" y1="439.4" x2="676.99" y2="442.7" stroke="#000" stroke-width="2.4"/>
<line x1="682.76" y1="439.4" x2="682.76" y2="442.7" stroke="#000" stroke-width="2.4"/>
<line x1="688.53" y1="439.4" x2="688.53" y2="442.7" stroke="#000" stroke-width="2.4"/>
<line x1="694.3" y1="439.4" x2="694.3" y2="445" stroke="#000" stroke-width="2.4"/>
<text transform="translate(694.3 458.8) scale(1 1.1)" font-size="12.8" font-weight="bold" text-anchor="middle">30</text>
<text transform="translate(560.8 478.4) scale(1 1)" font-size="14.3" font-weight="bold" text-anchor="middle">dpi</text>
<text transform="translate(395.4 350.8) rotate(-90)" font-size="14.2" font-weight="bold" text-anchor="middle">% DR+ cells</text>
<polyline clip-path="url(#clbb)" points="426.7,414.59 444.6,388.45 480.4,348.14 552,392.88 578.9,392.88 601.98,403.96" fill="none" stroke="#e52a1b" stroke-width="2.6" stroke-linejoin="round" stroke-dasharray="7.2 4.6"/>
<polyline clip-path="url(#crbb)" points="426.7,414.59 444.6,388.45 480.4,348.14 552,392.88 578.9,392.88 601.98,403.96" fill="none" stroke="#e52a1b" stroke-width="2.6" stroke-linejoin="round" stroke-dasharray="7.2 4.6"/>
<polyline clip-path="url(#clbb)" points="426.7,357.89 444.6,406.17 480.4,393.77 578.9,430.54 601.98,428.32" fill="none" stroke="#e52a1b" stroke-width="2.6" stroke-linejoin="round" stroke-dasharray="7.2 4.6"/>
<polyline clip-path="url(#crbb)" points="426.7,357.89 444.6,406.17 480.4,393.77 578.9,430.54 601.98,428.32" fill="none" stroke="#e52a1b" stroke-width="2.6" stroke-linejoin="round" stroke-dasharray="7.2 4.6"/>
<polyline clip-path="url(#clbb)" points="426.7,437.63 444.6,436.3 480.4,437.63 552,437.63 578.9,425.67 607.75,412.82 642.37,409.72 694.3,364.98" fill="none" stroke="#e52a1b" stroke-width="2.6" stroke-linejoin="round"/>
<polyline clip-path="url(#crbb)" points="426.7,437.63 444.6,436.3 480.4,437.63 552,437.63 578.9,425.67 607.75,412.82 642.37,409.72 694.3,364.98" fill="none" stroke="#e52a1b" stroke-width="2.6" stroke-linejoin="round"/>
<polyline clip-path="url(#clbb)" points="426.7,314.92 444.6,437.19 480.4,438.07 552,438.07 578.9,430.54 607.75,427 642.37,409.72 694.3,388.01" fill="none" stroke="#e52a1b" stroke-width="2.6" stroke-linejoin="round"/>
<polyline clip-path="url(#crbb)" points="426.7,314.92 444.6,437.19 480.4,438.07 552,438.07 578.9,430.54 607.75,427 642.37,409.72 694.3,388.01" fill="none" stroke="#e52a1b" stroke-width="2.6" stroke-linejoin="round"/>
<rect x="423.7" y="411.59" width="6" height="6" fill="#fff" stroke="#e52a1b" stroke-width="2.7"/>
<rect x="441.6" y="385.45" width="6" height="6" fill="#fff" stroke="#e52a1b" stroke-width="2.7"/>
<rect x="477.4" y="345.14" width="6" height="6" fill="#fff" stroke="#e52a1b" stroke-width="2.7"/>
<rect x="549" y="389.88" width="6" height="6" fill="#fff" stroke="#e52a1b" stroke-width="2.7"/>
<rect x="575.9" y="389.88" width="6" height="6" fill="#fff" stroke="#e52a1b" stroke-width="2.7"/>
<rect x="598.98" y="400.96" width="6" height="6" fill="#fff" stroke="#e52a1b" stroke-width="2.7"/>
<circle cx="426.7" cy="357.89" r="3" fill="#fff" stroke="#e52a1b" stroke-width="2.7"/>
<circle cx="444.6" cy="406.17" r="3" fill="#fff" stroke="#e52a1b" stroke-width="2.7"/>
<circle cx="480.4" cy="393.77" r="3" fill="#fff" stroke="#e52a1b" stroke-width="2.7"/>
<circle cx="578.9" cy="430.54" r="3" fill="#fff" stroke="#e52a1b" stroke-width="2.7"/>
<circle cx="601.98" cy="428.32" r="3" fill="#fff" stroke="#e52a1b" stroke-width="2.7"/>
<rect x="422.9" y="433.83" width="7.6" height="7.6" fill="#e52a1b"/>
<rect x="440.8" y="432.5" width="7.6" height="7.6" fill="#e52a1b"/>
<rect x="476.6" y="433.83" width="7.6" height="7.6" fill="#e52a1b"/>
<rect x="548.2" y="433.83" width="7.6" height="7.6" fill="#e52a1b"/>
<rect x="575.1" y="421.87" width="7.6" height="7.6" fill="#e52a1b"/>
<rect x="603.95" y="409.02" width="7.6" height="7.6" fill="#e52a1b"/>
<rect x="638.57" y="405.92" width="7.6" height="7.6" fill="#e52a1b"/>
<rect x="690.5" y="361.18" width="7.6" height="7.6" fill="#e52a1b"/>
<circle cx="426.7" cy="314.92" r="3.9" fill="#e52a1b"/>
<circle cx="444.6" cy="437.19" r="3.9" fill="#e52a1b"/>
<circle cx="480.4" cy="438.07" r="3.9" fill="#e52a1b"/>
<circle cx="552" cy="438.07" r="3.9" fill="#e52a1b"/>
<circle cx="578.9" cy="430.54" r="3.9" fill="#e52a1b"/>
<circle cx="607.75" cy="427" r="3.9" fill="#e52a1b"/>
<circle cx="642.37" cy="409.72" r="3.9" fill="#e52a1b"/>
<circle cx="694.3" cy="388.01" r="3.9" fill="#e52a1b"/>
<line x1="53.1" y1="555.9" x2="53.1" y2="734" stroke="#000" stroke-width="2.6"/>
<line x1="47.6" y1="734" x2="321.8" y2="734" stroke="#000" stroke-width="2.6"/>
<line x1="47.6" y1="734" x2="53.1" y2="734" stroke="#000" stroke-width="2.4"/>
<text transform="translate(46.7 739) scale(1 1.1)" font-size="12.8" font-weight="bold" text-anchor="end">0</text>
<line x1="47.6" y1="698.6" x2="53.1" y2="698.6" stroke="#000" stroke-width="2.4"/>
<text transform="translate(46.7 703.6) scale(1 1.1)" font-size="12.8" font-weight="bold" text-anchor="end">5</text>
<line x1="47.6" y1="663.2" x2="53.1" y2="663.2" stroke="#000" stroke-width="2.4"/>
<text transform="translate(46.7 668.2) scale(1 1.1)" font-size="12.8" font-weight="bold" text-anchor="end">10</text>
<line x1="47.6" y1="627.8" x2="53.1" y2="627.8" stroke="#000" stroke-width="2.4"/>
<text transform="translate(46.7 632.8) scale(1 1.1)" font-size="12.8" font-weight="bold" text-anchor="end">15</text>
<line x1="47.6" y1="592.4" x2="53.1" y2="592.4" stroke="#000" stroke-width="2.4"/>
<text transform="translate(46.7 597.4) scale(1 1.1)" font-size="12.8" font-weight="bold" text-anchor="end">20</text>
<line x1="47.6" y1="557" x2="53.1" y2="557" stroke="#000" stroke-width="2.4"/>
<text transform="translate(46.7 562) scale(1 1.1)" font-size="12.8" font-weight="bold" text-anchor="end">25</text>
<line x1="53.1" y1="734" x2="53.1" y2="739.6" stroke="#000" stroke-width="2.4"/>
<text transform="translate(53.1 753.4) scale(1 1.1)" font-size="12.8" font-weight="bold" text-anchor="middle">0</text>
<line x1="62.02" y1="734" x2="62.02" y2="737.3" stroke="#000" stroke-width="2.4"/>
<line x1="70.94" y1="734" x2="70.94" y2="737.3" stroke="#000" stroke-width="2.4"/>
<line x1="79.86" y1="734" x2="79.86" y2="737.3" stroke="#000" stroke-width="2.4"/>
<line x1="88.78" y1="734" x2="88.78" y2="737.3" stroke="#000" stroke-width="2.4"/>
<line x1="97.7" y1="734" x2="97.7" y2="739.6" stroke="#000" stroke-width="2.4"/>
<text transform="translate(97.7 753.4) scale(1 1.1)" font-size="12.8" font-weight="bold" text-anchor="middle">5</text>
<line x1="106.62" y1="734" x2="106.62" y2="737.3" stroke="#000" stroke-width="2.4"/>
<line x1="115.54" y1="734" x2="115.54" y2="737.3" stroke="#000" stroke-width="2.4"/>
<line x1="124.46" y1="734" x2="124.46" y2="737.3" stroke="#000" stroke-width="2.4"/>
<line x1="133.38" y1="734" x2="133.38" y2="737.3" stroke="#000" stroke-width="2.4"/>
<line x1="142.3" y1="734" x2="142.3" y2="739.6" stroke="#000" stroke-width="2.4"/>
<text transform="translate(142.3 753.4) scale(1 1.1)" font-size="12.8" font-weight="bold" text-anchor="middle">10</text>
<line x1="151.22" y1="734" x2="151.22" y2="737.3" stroke="#000" stroke-width="2.4"/>
<line x1="160.14" y1="734" x2="160.14" y2="737.3" stroke="#000" stroke-width="2.4"/>
<line x1="169.06" y1="734" x2="169.06" y2="737.3" stroke="#000" stroke-width="2.4"/>
<line x1="177.98" y1="734" x2="177.98" y2="737.3" stroke="#000" stroke-width="2.4"/>
<line x1="186.9" y1="734" x2="186.9" y2="739.6" stroke="#000" stroke-width="2.4"/>
<text transform="translate(186.9 753.4) scale(1 1.1)" font-size="12.8" font-weight="bold" text-anchor="middle">15</text>
<line x1="195.82" y1="734" x2="195.82" y2="737.3" stroke="#000" stroke-width="2.4"/>
<line x1="204.74" y1="734" x2="204.74" y2="737.3" stroke="#000" stroke-width="2.4"/>
<line x1="213.66" y1="734" x2="213.66" y2="737.3" stroke="#000" stroke-width="2.4"/>
<line x1="222.58" y1="734" x2="222.58" y2="737.3" stroke="#000" stroke-width="2.4"/>
<line x1="231.5" y1="734" x2="231.5" y2="739.6" stroke="#000" stroke-width="2.4"/>
<text transform="translate(231.5 753.4) scale(1 1.1)" font-size="12.8" font-weight="bold" text-anchor="middle">20</text>
<line x1="240.42" y1="734" x2="240.42" y2="737.3" stroke="#000" stroke-width="2.4"/>
<line x1="249.34" y1="734" x2="249.34" y2="737.3" stroke="#000" stroke-width="2.4"/>
<line x1="258.26" y1="734" x2="258.26" y2="737.3" stroke="#000" stroke-width="2.4"/>
<line x1="267.18" y1="734" x2="267.18" y2="737.3" stroke="#000" stroke-width="2.4"/>
<line x1="276.1" y1="734" x2="276.1" y2="739.6" stroke="#000" stroke-width="2.4"/>
<text transform="translate(276.1 753.4) scale(1 1.1)" font-size="12.8" font-weight="bold" text-anchor="middle">25</text>
<line x1="285.02" y1="734" x2="285.02" y2="737.3" stroke="#000" stroke-width="2.4"/>
<line x1="293.94" y1="734" x2="293.94" y2="737.3" stroke="#000" stroke-width="2.4"/>
<line x1="302.86" y1="734" x2="302.86" y2="737.3" stroke="#000" stroke-width="2.4"/>
<line x1="311.78" y1="734" x2="311.78" y2="737.3" stroke="#000" stroke-width="2.4"/>
<line x1="320.7" y1="734" x2="320.7" y2="739.6" stroke="#000" stroke-width="2.4"/>
<text transform="translate(320.7 753.4) scale(1 1.1)" font-size="12.8" font-weight="bold" text-anchor="middle">30</text>
<text transform="translate(186.9 773) scale(1 1)" font-size="14.3" font-weight="bold" text-anchor="middle">dpi</text>
<text transform="translate(23.6 645.5) rotate(-90)" font-size="14.2" font-weight="bold" text-anchor="middle">% DR+ cells</text>
<polyline points="53.1,684.44 62.02,705.68 79.86,623.55 115.54,688.69 142.3,716.3 177.98,705.68" fill="none" stroke="#000" stroke-width="2.6" stroke-linejoin="round" stroke-dasharray="7.2 4.6"/>
<polyline points="53.1,687.98 62.02,724.09 79.86,639.13 115.54,583.9 142.3,718.42 177.98,701.43" fill="none" stroke="#000" stroke-width="2.6" stroke-linejoin="round" stroke-dasharray="7.2 4.6"/>
<polyline points="53.1,710.64 62.02,717.01 79.86,683.73 115.54,661.08 142.3,722.67 177.98,712.76" fill="none" stroke="#000" stroke-width="2.6" stroke-linejoin="round" stroke-dasharray="7.2 4.6"/>
<polyline points="53.1,731.88 62.02,731.17 79.86,724.8 115.54,722.67 142.3,732.58 186.9,730.46 240.42,731.88 320.7,729.75" fill="none" stroke="#000" stroke-width="2.6" stroke-linejoin="round"/>
<polyline points="53.1,731.17 62.02,730.46 79.86,718.42 115.54,721.96 142.3,729.75 186.9,726.21 320.7,726.92" fill="none" stroke="#000" stroke-width="2.6" stroke-linejoin="round"/>
<rect x="50.1" y="681.44" width="6" height="6" fill="#fff" stroke="#000" stroke-width="2.7"/>
<rect x="59.02" y="702.68" width="6" height="6" fill="#fff" stroke="#000" stroke-width="2.7"/>
<rect x="76.86" y="620.55" width="6" height="6" fill="#fff" stroke="#000" stroke-width="2.7"/>
<rect x="112.54" y="685.69" width="6" height="6" fill="#fff" stroke="#000" stroke-width="2.7"/>
<rect x="139.3" y="713.3" width="6" height="6" fill="#fff" stroke="#000" stroke-width="2.7"/>
<rect x="174.98" y="702.68" width="6" height="6" fill="#fff" stroke="#000" stroke-width="2.7"/>
<circle cx="53.1" cy="687.98" r="3" fill="#fff" stroke="#000" stroke-width="2.7"/>
<circle cx="62.02" cy="724.09" r="3" fill="#fff" stroke="#000" stroke-width="2.7"/>
<circle cx="79.86" cy="639.13" r="3" fill="#fff" stroke="#000" stroke-width="2.7"/>
<circle cx="115.54" cy="583.9" r="3" fill="#fff" stroke="#000" stroke-width="2.7"/>
<circle cx="142.3" cy="718.42" r="3" fill="#fff" stroke="#000" stroke-width="2.7"/>
<circle cx="177.98" cy="701.43" r="3" fill="#fff" stroke="#000" stroke-width="2.7"/>
<path d="M53.1 707.74L56 710.64L53.1 713.54L50.2 710.64Z" fill="#fff" stroke="#000" stroke-width="3" stroke-linejoin="round"/>
<path d="M62.02 714.11L64.92 717.01L62.02 719.91L59.12 717.01Z" fill="#fff" stroke="#000" stroke-width="3" stroke-linejoin="round"/>
<path d="M79.86 680.83L82.76 683.73L79.86 686.63L76.96 683.73Z" fill="#fff" stroke="#000" stroke-width="3" stroke-linejoin="round"/>
<path d="M115.54 658.18L118.44 661.08L115.54 663.98L112.64 661.08Z" fill="#fff" stroke="#000" stroke-width="3" stroke-linejoin="round"/>
<path d="M142.3 719.77L145.2 722.67L142.3 725.57L139.4 722.67Z" fill="#fff" stroke="#000" stroke-width="3" stroke-linejoin="round"/>
<path d="M177.98 709.86L180.88 712.76L177.98 715.66L175.08 712.76Z" fill="#fff" stroke="#000" stroke-width="3" stroke-linejoin="round"/>
<rect x="49.3" y="728.08" width="7.6" height="7.6" fill="#000"/>
<rect x="58.22" y="727.37" width="7.6" height="7.6" fill="#000"/>
<rect x="76.06" y="721" width="7.6" height="7.6" fill="#000"/>
<rect x="111.74" y="718.87" width="7.6" height="7.6" fill="#000"/>
<rect x="138.5" y="728.78" width="7.6" height="7.6" fill="#000"/>
<rect x="183.1" y="726.66" width="7.6" height="7.6" fill="#000"/>
<rect x="236.62" y="728.08" width="7.6" height="7.6" fill="#000"/>
<rect x="316.9" y="725.95" width="7.6" height="7.6" fill="#000"/>
<circle cx="53.1" cy="731.17" r="3.9" fill="#000"/>
<circle cx="62.02" cy="730.46" r="3.9" fill="#000"/>
<circle cx="79.86" cy="718.42" r="3.9" fill="#000"/>
<circle cx="115.54" cy="721.96" r="3.9" fill="#000"/>
<circle cx="142.3" cy="729.75" r="3.9" fill="#000"/>
<circle cx="186.9" cy="726.21" r="3.9" fill="#000"/>
<circle cx="320.7" cy="726.92" r="3.9" fill="#000"/>
<line x1="55.4" y1="777.9" x2="55.4" y2="956.5" stroke="#000" stroke-width="2.6"/>
<line x1="49.9" y1="956.5" x2="324.1" y2="956.5" stroke="#000" stroke-width="2.6"/>
<line x1="49.9" y1="956.5" x2="55.4" y2="956.5" stroke="#000" stroke-width="2.4"/>
<text transform="translate(49 961.5) scale(1 1.1)" font-size="12.8" font-weight="bold" text-anchor="end">0</text>
<line x1="49.9" y1="921" x2="55.4" y2="921" stroke="#000" stroke-width="2.4"/>
<text transform="translate(49 926) scale(1 1.1)" font-size="12.8" font-weight="bold" text-anchor="end">5</text>
<line x1="49.9" y1="885.5" x2="55.4" y2="885.5" stroke="#000" stroke-width="2.4"/>
<text transform="translate(49 890.5) scale(1 1.1)" font-size="12.8" font-weight="bold" text-anchor="end">10</text>
<line x1="49.9" y1="850" x2="55.4" y2="850" stroke="#000" stroke-width="2.4"/>
<text transform="translate(49 855) scale(1 1.1)" font-size="12.8" font-weight="bold" text-anchor="end">15</text>
<line x1="49.9" y1="814.5" x2="55.4" y2="814.5" stroke="#000" stroke-width="2.4"/>
<text transform="translate(49 819.5) scale(1 1.1)" font-size="12.8" font-weight="bold" text-anchor="end">20</text>
<line x1="49.9" y1="779" x2="55.4" y2="779" stroke="#000" stroke-width="2.4"/>
<text transform="translate(49 784) scale(1 1.1)" font-size="12.8" font-weight="bold" text-anchor="end">25</text>
<line x1="55.4" y1="956.5" x2="55.4" y2="962.1" stroke="#000" stroke-width="2.4"/>
<text transform="translate(55.4 975.9) scale(1 1.1)" font-size="12.8" font-weight="bold" text-anchor="middle">0</text>
<line x1="64.32" y1="956.5" x2="64.32" y2="959.8" stroke="#000" stroke-width="2.4"/>
<line x1="73.24" y1="956.5" x2="73.24" y2="959.8" stroke="#000" stroke-width="2.4"/>
<line x1="82.16" y1="956.5" x2="82.16" y2="959.8" stroke="#000" stroke-width="2.4"/>
<line x1="91.08" y1="956.5" x2="91.08" y2="959.8" stroke="#000" stroke-width="2.4"/>
<line x1="100" y1="956.5" x2="100" y2="962.1" stroke="#000" stroke-width="2.4"/>
<text transform="translate(100 975.9) scale(1 1.1)" font-size="12.8" font-weight="bold" text-anchor="middle">5</text>
<line x1="108.92" y1="956.5" x2="108.92" y2="959.8" stroke="#000" stroke-width="2.4"/>
<line x1="117.84" y1="956.5" x2="117.84" y2="959.8" stroke="#000" stroke-width="2.4"/>
<line x1="126.76" y1="956.5" x2="126.76" y2="959.8" stroke="#000" stroke-width="2.4"/>
<line x1="135.68" y1="956.5" x2="135.68" y2="959.8" stroke="#000" stroke-width="2.4"/>
<line x1="144.6" y1="956.5" x2="144.6" y2="962.1" stroke="#000" stroke-width="2.4"/>
<text transform="translate(144.6 975.9) scale(1 1.1)" font-size="12.8" font-weight="bold" text-anchor="middle">10</text>
<line x1="153.52" y1="956.5" x2="153.52" y2="959.8" stroke="#000" stroke-width="2.4"/>
<line x1="162.44" y1="956.5" x2="162.44" y2="959.8" stroke="#000" stroke-width="2.4"/>
<line x1="171.36" y1="956.5" x2="171.36" y2="959.8" stroke="#000" stroke-width="2.4"/>
<line x1="180.28" y1="956.5" x2="180.28" y2="959.8" stroke="#000" stroke-width="2.4"/>
<line x1="189.2" y1="956.5" x2="189.2" y2="962.1" stroke="#000" stroke-width="2.4"/>
<text transform="translate(189.2 975.9) scale(1 1.1)" font-size="12.8" font-weight="bold" text-anchor="middle">15</text>
<line x1="198.12" y1="956.5" x2="198.12" y2="959.8" stroke="#000" stroke-width="2.4"/>
<line x1="207.04" y1="956.5" x2="207.04" y2="959.8" stroke="#000" stroke-width="2.4"/>
<line x1="215.96" y1="956.5" x2="215.96" y2="959.8" stroke="#000" stroke-width="2.4"/>
<line x1="224.88" y1="956.5" x2="224.88" y2="959.8" stroke="#000" stroke-width="2.4"/>
<line x1="233.8" y1="956.5" x2="233.8" y2="962.1" stroke="#000" stroke-width="2.4"/>
<text transform="translate(233.8 975.9) scale(1 1.1)" font-size="12.8" font-weight="bold" text-anchor="middle">20</text>
<line x1="242.72" y1="956.5" x2="242.72" y2="959.8" stroke="#000" stroke-width="2.4"/>
<line x1="251.64" y1="956.5" x2="251.64" y2="959.8" stroke="#000" stroke-width="2.4"/>
<line x1="260.56" y1="956.5" x2="260.56" y2="959.8" stroke="#000" stroke-width="2.4"/>
<line x1="269.48" y1="956.5" x2="269.48" y2="959.8" stroke="#000" stroke-width="2.4"/>
<line x1="278.4" y1="956.5" x2="278.4" y2="962.1" stroke="#000" stroke-width="2.4"/>
<text transform="translate(278.4 975.9) scale(1 1.1)" font-size="12.8" font-weight="bold" text-anchor="middle">25</text>
<line x1="287.32" y1="956.5" x2="287.32" y2="959.8" stroke="#000" stroke-width="2.4"/>
<line x1="296.24" y1="956.5" x2="296.24" y2="959.8" stroke="#000" stroke-width="2.4"/>
<line x1="305.16" y1="956.5" x2="305.16" y2="959.8" stroke="#000" stroke-width="2.4"/>
<line x1="314.08" y1="956.5" x2="314.08" y2="959.8" stroke="#000" stroke-width="2.4"/>
<line x1="323" y1="956.5" x2="323" y2="962.1" stroke="#000" stroke-width="2.4"/>
<text transform="translate(323 975.9) scale(1 1.1)" font-size="12.8" font-weight="bold" text-anchor="middle">30</text>
<text transform="translate(189.2 995.5) scale(1 1)" font-size="14.3" font-weight="bold" text-anchor="middle">dpi</text>
<text transform="translate(23.8 867.75) rotate(-90)" font-size="14.2" font-weight="bold" text-anchor="middle">% DR+ cells</text>
<polyline points="55.4,912.48 64.32,920.29 82.16,903.96 117.84,937.33 144.6,932.36 180.28,931.65" fill="none" stroke="#e52a1b" stroke-width="2.6" stroke-linejoin="round" stroke-dasharray="7.2 4.6"/>
<polyline points="55.4,906.8 64.32,912.48 82.16,852.84 144.6,951.53 180.28,945.14" fill="none" stroke="#e52a1b" stroke-width="2.6" stroke-linejoin="round" stroke-dasharray="7.2 4.6"/>
<polyline points="55.4,953.66 64.32,952.95 82.16,952.95 117.84,955.08 144.6,952.95 189.2,953.66 242.72,953.66 323,952.95" fill="none" stroke="#e52a1b" stroke-width="2.6" stroke-linejoin="round"/>
<polyline points="55.4,953.66 64.32,954.37 82.16,953.66 117.84,955.08 144.6,952.24 189.2,952.95 323,950.82" fill="none" stroke="#e52a1b" stroke-width="2.6" stroke-linejoin="round"/>
<rect x="52.4" y="909.48" width="6" height="6" fill="#fff" stroke="#e52a1b" stroke-width="2.7"/>
<rect x="61.32" y="917.29" width="6" height="6" fill="#fff" stroke="#e52a1b" stroke-width="2.7"/>
<rect x="79.16" y="900.96" width="6" height="6" fill="#fff" stroke="#e52a1b" stroke-width="2.7"/>
<rect x="114.84" y="934.33" width="6" height="6" fill="#fff" stroke="#e52a1b" stroke-width="2.7"/>
<rect x="141.6" y="929.36" width="6" height="6" fill="#fff" stroke="#e52a1b" stroke-width="2.7"/>
<rect x="177.28" y="928.65" width="6" height="6" fill="#fff" stroke="#e52a1b" stroke-width="2.7"/>
<circle cx="55.4" cy="906.8" r="3" fill="#fff" stroke="#e52a1b" stroke-width="2.7"/>
<circle cx="64.32" cy="912.48" r="3" fill="#fff" stroke="#e52a1b" stroke-width="2.7"/>
<circle cx="82.16" cy="852.84" r="3" fill="#fff" stroke="#e52a1b" stroke-width="2.7"/>
<circle cx="144.6" cy="951.53" r="3" fill="#fff" stroke="#e52a1b" stroke-width="2.7"/>
<circle cx="180.28" cy="945.14" r="3" fill="#fff" stroke="#e52a1b" stroke-width="2.7"/>
<rect x="51.6" y="949.86" width="7.6" height="7.6" fill="#e52a1b"/>
<rect x="60.52" y="949.15" width="7.6" height="7.6" fill="#e52a1b"/>
<rect x="78.36" y="949.15" width="7.6" height="7.6" fill="#e52a1b"/>
<rect x="114.04" y="951.28" width="7.6" height="7.6" fill="#e52a1b"/>
<rect x="140.8" y="949.15" width="7.6" height="7.6" fill="#e52a1b"/>
<rect x="185.4" y="949.86" width="7.6" height="7.6" fill="#e52a1b"/>
<rect x="238.92" y="949.86" width="7.6" height="7.6" fill="#e52a1b"/>
<rect x="319.2" y="949.15" width="7.6" height="7.6" fill="#e52a1b"/>
<circle cx="55.4" cy="953.66" r="3.9" fill="#e52a1b"/>
<circle cx="64.32" cy="954.37" r="3.9" fill="#e52a1b"/>
<circle cx="82.16" cy="953.66" r="3.9" fill="#e52a1b"/>
<circle cx="117.84" cy="955.08" r="3.9" fill="#e52a1b"/>
<circle cx="144.6" cy="952.24" r="3.9" fill="#e52a1b"/>
<circle cx="189.2" cy="952.95" r="3.9" fill="#e52a1b"/>
<circle cx="323" cy="950.82" r="3.9" fill="#e52a1b"/>
<line x1="432" y1="556.7" x2="432" y2="736" stroke="#000" stroke-width="2.6"/>
<line x1="426.5" y1="736" x2="700.1" y2="736" stroke="#000" stroke-width="2.6"/>
<line x1="426.5" y1="736" x2="432" y2="736" stroke="#000" stroke-width="2.4"/>
<text transform="translate(425.6 741) scale(1 1.1)" font-size="12.8" font-weight="bold" text-anchor="end">0</text>
<line x1="426.5" y1="676.6" x2="432" y2="676.6" stroke="#000" stroke-width="2.4"/>
<text transform="translate(425.6 681.6) scale(1 1.1)" font-size="12.8" font-weight="bold" text-anchor="end">5</text>
<line x1="426.5" y1="617.2" x2="432" y2="617.2" stroke="#000" stroke-width="2.4"/>
<text transform="translate(425.6 622.2) scale(1 1.1)" font-size="12.8" font-weight="bold" text-anchor="end">10</text>
<line x1="426.5" y1="557.8" x2="432" y2="557.8" stroke="#000" stroke-width="2.4"/>
<text transform="translate(425.6 562.8) scale(1 1.1)" font-size="12.8" font-weight="bold" text-anchor="end">15</text>
<line x1="432" y1="736" x2="432" y2="741.6" stroke="#000" stroke-width="2.4"/>
<text transform="translate(432 755.4) scale(1 1.1)" font-size="12.8" font-weight="bold" text-anchor="middle">0</text>
<line x1="440.9" y1="736" x2="440.9" y2="739.3" stroke="#000" stroke-width="2.4"/>
<line x1="449.8" y1="736" x2="449.8" y2="739.3" stroke="#000" stroke-width="2.4"/>
<line x1="458.7" y1="736" x2="458.7" y2="739.3" stroke="#000" stroke-width="2.4"/>
<line x1="467.6" y1="736" x2="467.6" y2="739.3" stroke="#000" stroke-width="2.4"/>
<line x1="476.5" y1="736" x2="476.5" y2="741.6" stroke="#000" stroke-width="2.4"/>
<text transform="translate(476.5 755.4) scale(1 1.1)" font-size="12.8" font-weight="bold" text-anchor="middle">5</text>
<line x1="485.4" y1="736" x2="485.4" y2="739.3" stroke="#000" stroke-width="2.4"/>
<line x1="494.3" y1="736" x2="494.3" y2="739.3" stroke="#000" stroke-width="2.4"/>
<line x1="503.2" y1="736" x2="503.2" y2="739.3" stroke="#000" stroke-width="2.4"/>
<line x1="512.1" y1="736" x2="512.1" y2="739.3" stroke="#000" stroke-width="2.4"/>
<line x1="521" y1="736" x2="521" y2="741.6" stroke="#000" stroke-width="2.4"/>
<text transform="translate(521 755.4) scale(1 1.1)" font-size="12.8" font-weight="bold" text-anchor="middle">10</text>
<line x1="529.9" y1="736" x2="529.9" y2="739.3" stroke="#000" stroke-width="2.4"/>
<line x1="538.8" y1="736" x2="538.8" y2="739.3" stroke="#000" stroke-width="2.4"/>
<line x1="547.7" y1="736" x2="547.7" y2="739.3" stroke="#000" stroke-width="2.4"/>
<line x1="556.6" y1="736" x2="556.6" y2="739.3" stroke="#000" stroke-width="2.4"/>
<line x1="565.5" y1="736" x2="565.5" y2="741.6" stroke="#000" stroke-width="2.4"/>
<text transform="translate(565.5 755.4) scale(1 1.1)" font-size="12.8" font-weight="bold" text-anchor="middle">15</text>
<line x1="574.4" y1="736" x2="574.4" y2="739.3" stroke="#000" stroke-width="2.4"/>
<line x1="583.3" y1="736" x2="583.3" y2="739.3" stroke="#000" stroke-width="2.4"/>
<line x1="592.2" y1="736" x2="592.2" y2="739.3" stroke="#000" stroke-width="2.4"/>
<line x1="601.1" y1="736" x2="601.1" y2="739.3" stroke="#000" stroke-width="2.4"/>
<line x1="610" y1="736" x2="610" y2="741.6" stroke="#000" stroke-width="2.4"/>
<text transform="translate(610 755.4) scale(1 1.1)" font-size="12.8" font-weight="bold" text-anchor="middle">20</text>
<line x1="618.9" y1="736" x2="618.9" y2="739.3" stroke="#000" stroke-width="2.4"/>
<line x1="627.8" y1="736" x2="627.8" y2="739.3" stroke="#000" stroke-width="2.4"/>
<line x1="636.7" y1="736" x2="636.7" y2="739.3" stroke="#000" stroke-width="2.4"/>
<line x1="645.6" y1="736" x2="645.6" y2="739.3" stroke="#000" stroke-width="2.4"/>
<line x1="654.5" y1="736" x2="654.5" y2="741.6" stroke="#000" stroke-width="2.4"/>
<text transform="translate(654.5 755.4) scale(1 1.1)" font-size="12.8" font-weight="bold" text-anchor="middle">25</text>
<line x1="663.4" y1="736" x2="663.4" y2="739.3" stroke="#000" stroke-width="2.4"/>
<line x1="672.3" y1="736" x2="672.3" y2="739.3" stroke="#000" stroke-width="2.4"/>
<line x1="681.2" y1="736" x2="681.2" y2="739.3" stroke="#000" stroke-width="2.4"/>
<line x1="690.1" y1="736" x2="690.1" y2="739.3" stroke="#000" stroke-width="2.4"/>
<line x1="699" y1="736" x2="699" y2="741.6" stroke="#000" stroke-width="2.4"/>
<text transform="translate(699 755.4) scale(1 1.1)" font-size="12.8" font-weight="bold" text-anchor="middle">30</text>
<text transform="translate(565.5 775) scale(1 1)" font-size="14.3" font-weight="bold" text-anchor="middle">dpi</text>
<text transform="translate(403 646.9) rotate(-90)" font-size="14.2" font-weight="bold" text-anchor="middle">% DR+ cells</text>
<polyline points="432,655.22 440.9,687.29 458.7,689.67 494.3,664.72 521,645.71 556.6,720.56" fill="none" stroke="#000" stroke-width="2.6" stroke-linejoin="round" stroke-dasharray="7.2 4.6"/>
<polyline points="432,715.8 440.9,726.5 458.7,705.11 494.3,578 521,709.86 556.6,730.06" fill="none" stroke="#000" stroke-width="2.6" stroke-linejoin="round" stroke-dasharray="7.2 4.6"/>
<polyline points="432,694.42 440.9,709.86 458.7,688.48 494.3,619.58 521,688.48 556.6,718.18" fill="none" stroke="#000" stroke-width="2.6" stroke-linejoin="round" stroke-dasharray="7.2 4.6"/>
<polyline points="432,721.74 440.9,727.68 458.7,719.37 494.3,694.42 521,720.56 565.5,724.83 618.9,726.5 699,730.54" fill="none" stroke="#000" stroke-width="2.6" stroke-linejoin="round"/>
<polyline points="432,706.3 440.9,728.87 458.7,701.55 494.3,699.17 521,696.8 565.5,715.8 699,707.49" fill="none" stroke="#000" stroke-width="2.6" stroke-linejoin="round"/>
<rect x="429" y="652.22" width="6" height="6" fill="#fff" stroke="#000" stroke-width="2.7"/>
<rect x="437.9" y="684.29" width="6" height="6" fill="#fff" stroke="#000" stroke-width="2.7"/>
<rect x="455.7" y="686.67" width="6" height="6" fill="#fff" stroke="#000" stroke-width="2.7"/>
<rect x="491.3" y="661.72" width="6" height="6" fill="#fff" stroke="#000" stroke-width="2.7"/>
<rect x="518" y="642.71" width="6" height="6" fill="#fff" stroke="#000" stroke-width="2.7"/>
<rect x="553.6" y="717.56" width="6" height="6" fill="#fff" stroke="#000" stroke-width="2.7"/>
<circle cx="432" cy="715.8" r="3" fill="#fff" stroke="#000" stroke-width="2.7"/>
<circle cx="440.9" cy="726.5" r="3" fill="#fff" stroke="#000" stroke-width="2.7"/>
<circle cx="458.7" cy="705.11" r="3" fill="#fff" stroke="#000" stroke-width="2.7"/>
<circle cx="494.3" cy="578" r="3" fill="#fff" stroke="#000" stroke-width="2.7"/>
<circle cx="521" cy="709.86" r="3" fill="#fff" stroke="#000" stroke-width="2.7"/>
<circle cx="556.6" cy="730.06" r="3" fill="#fff" stroke="#000" stroke-width="2.7"/>
<path d="M432 691.52L434.9 694.42L432 697.32L429.1 694.42Z" fill="#fff" stroke="#000" stroke-width="3" stroke-linejoin="round"/>
<path d="M440.9 706.96L443.8 709.86L440.9 712.76L438 709.86Z" fill="#fff" stroke="#000" stroke-width="3" stroke-linejoin="round"/>
<path d="M458.7 685.58L461.6 688.48L458.7 691.38L455.8 688.48Z" fill="#fff" stroke="#000" stroke-width="3" stroke-linejoin="round"/>
<path d="M494.3 616.68L497.2 619.58L494.3 622.48L491.4 619.58Z" fill="#fff" stroke="#000" stroke-width="3" stroke-linejoin="round"/>
<path d="M521 685.58L523.9 688.48L521 691.38L518.1 688.48Z" fill="#fff" stroke="#000" stroke-width="3" stroke-linejoin="round"/>
<path d="M556.6 715.28L559.5 718.18L556.6 721.08L553.7 718.18Z" fill="#fff" stroke="#000" stroke-width="3" stroke-linejoin="round"/>
<rect x="428.2" y="717.94" width="7.6" height="7.6" fill="#000"/>
<rect x="437.1" y="723.88" width="7.6" height="7.6" fill="#000"/>
<rect x="454.9" y="715.57" width="7.6" height="7.6" fill="#000"/>
<rect x="490.5" y="690.62" width="7.6" height="7.6" fill="#000"/>
<rect x="517.2" y="716.76" width="7.6" height="7.6" fill="#000"/>
<rect x="561.7" y="721.03" width="7.6" height="7.6" fill="#000"/>
<rect x="615.1" y="722.7" width="7.6" height="7.6" fill="#000"/>
<rect x="695.2" y="726.74" width="7.6" height="7.6" fill="#000"/>
<circle cx="432" cy="706.3" r="3.9" fill="#000"/>
<circle cx="440.9" cy="728.87" r="3.9" fill="#000"/>
<circle cx="458.7" cy="701.55" r="3.9" fill="#000"/>
<circle cx="494.3" cy="699.17" r="3.9" fill="#000"/>
<circle cx="521" cy="696.8" r="3.9" fill="#000"/>
<circle cx="565.5" cy="715.8" r="3.9" fill="#000"/>
<circle cx="699" cy="707.49" r="3.9" fill="#000"/>
<line x1="433.5" y1="777.35" x2="433.5" y2="956.8" stroke="#000" stroke-width="2.6"/>
<line x1="428" y1="956.8" x2="701.3" y2="956.8" stroke="#000" stroke-width="2.6"/>
<line x1="428" y1="956.8" x2="433.5" y2="956.8" stroke="#000" stroke-width="2.4"/>
<text transform="translate(427.1 961.8) scale(1 1.1)" font-size="12.8" font-weight="bold" text-anchor="end">0</text>
<line x1="428" y1="897.35" x2="433.5" y2="897.35" stroke="#000" stroke-width="2.4"/>
<text transform="translate(427.1 902.35) scale(1 1.1)" font-size="12.8" font-weight="bold" text-anchor="end">5</text>
<line x1="428" y1="837.9" x2="433.5" y2="837.9" stroke="#000" stroke-width="2.4"/>
<text transform="translate(427.1 842.9) scale(1 1.1)" font-size="12.8" font-weight="bold" text-anchor="end">10</text>
<line x1="428" y1="778.45" x2="433.5" y2="778.45" stroke="#000" stroke-width="2.4"/>
<text transform="translate(427.1 783.45) scale(1 1.1)" font-size="12.8" font-weight="bold" text-anchor="end">15</text>
<line x1="433.5" y1="956.8" x2="433.5" y2="962.4" stroke="#000" stroke-width="2.4"/>
<text transform="translate(433.5 976.2) scale(1 1.1)" font-size="12.8" font-weight="bold" text-anchor="middle">0</text>
<line x1="442.39" y1="956.8" x2="442.39" y2="960.1" stroke="#000" stroke-width="2.4"/>
<line x1="451.28" y1="956.8" x2="451.28" y2="960.1" stroke="#000" stroke-width="2.4"/>
<line x1="460.17" y1="956.8" x2="460.17" y2="960.1" stroke="#000" stroke-width="2.4"/>
<line x1="469.06" y1="956.8" x2="469.06" y2="960.1" stroke="#000" stroke-width="2.4"/>
<line x1="477.95" y1="956.8" x2="477.95" y2="962.4" stroke="#000" stroke-width="2.4"/>
<text transform="translate(477.95 976.2) scale(1 1.1)" font-size="12.8" font-weight="bold" text-anchor="middle">5</text>
<line x1="486.84" y1="956.8" x2="486.84" y2="960.1" stroke="#000" stroke-width="2.4"/>
<line x1="495.73" y1="956.8" x2="495.73" y2="960.1" stroke="#000" stroke-width="2.4"/>
<line x1="504.62" y1="956.8" x2="504.62" y2="960.1" stroke="#000" stroke-width="2.4"/>
<line x1="513.51" y1="956.8" x2="513.51" y2="960.1" stroke="#000" stroke-width="2.4"/>
<line x1="522.4" y1="956.8" x2="522.4" y2="962.4" stroke="#000" stroke-width="2.4"/>
<text transform="translate(522.4 976.2) scale(1 1.1)" font-size="12.8" font-weight="bold" text-anchor="middle">10</text>
<line x1="531.29" y1="956.8" x2="531.29" y2="960.1" stroke="#000" stroke-width="2.4"/>
<line x1="540.18" y1="956.8" x2="540.18" y2="960.1" stroke="#000" stroke-width="2.4"/>
<line x1="549.07" y1="956.8" x2="549.07" y2="960.1" stroke="#000" stroke-width="2.4"/>
<line x1="557.96" y1="956.8" x2="557.96" y2="960.1" stroke="#000" stroke-width="2.4"/>
<line x1="566.85" y1="956.8" x2="566.85" y2="962.4" stroke="#000" stroke-width="2.4"/>
<text transform="translate(566.85 976.2) scale(1 1.1)" font-size="12.8" font-weight="bold" text-anchor="middle">15</text>
<line x1="575.74" y1="956.8" x2="575.74" y2="960.1" stroke="#000" stroke-width="2.4"/>
<line x1="584.63" y1="956.8" x2="584.63" y2="960.1" stroke="#000" stroke-width="2.4"/>
<line x1="593.52" y1="956.8" x2="593.52" y2="960.1" stroke="#000" stroke-width="2.4"/>
<line x1="602.41" y1="956.8" x2="602.41" y2="960.1" stroke="#000" stroke-width="2.4"/>
<line x1="611.3" y1="956.8" x2="611.3" y2="962.4" stroke="#000" stroke-width="2.4"/>
<text transform="translate(611.3 976.2) scale(1 1.1)" font-size="12.8" font-weight="bold" text-anchor="middle">20</text>
<line x1="620.19" y1="956.8" x2="620.19" y2="960.1" stroke="#000" stroke-width="2.4"/>
<line x1="629.08" y1="956.8" x2="629.08" y2="960.1" stroke="#000" stroke-width="2.4"/>
<line x1="637.97" y1="956.8" x2="637.97" y2="960.1" stroke="#000" stroke-width="2.4"/>
<line x1="646.86" y1="956.8" x2="646.86" y2="960.1" stroke="#000" stroke-width="2.4"/>
<line x1="655.75" y1="956.8" x2="655.75" y2="962.4" stroke="#000" stroke-width="2.4"/>
<text transform="translate(655.75 976.2) scale(1 1.1)" font-size="12.8" font-weight="bold" text-anchor="middle">25</text>
<line x1="664.64" y1="956.8" x2="664.64" y2="960.1" stroke="#000" stroke-width="2.4"/>
<line x1="673.53" y1="956.8" x2="673.53" y2="960.1" stroke="#000" stroke-width="2.4"/>
<line x1="682.42" y1="956.8" x2="682.42" y2="960.1" stroke="#000" stroke-width="2.4"/>
<line x1="691.31" y1="956.8" x2="691.31" y2="960.1" stroke="#000" stroke-width="2.4"/>
<line x1="700.2" y1="956.8" x2="700.2" y2="962.4" stroke="#000" stroke-width="2.4"/>
<text transform="translate(700.2 976.2) scale(1 1.1)" font-size="12.8" font-weight="bold" text-anchor="middle">30</text>
<text transform="translate(566.85 995.8) scale(1 1)" font-size="14.3" font-weight="bold" text-anchor="middle">dpi</text>
<text transform="translate(404 867.62) rotate(-90)" font-size="14.2" font-weight="bold" text-anchor="middle">% DR+ cells</text>
<polyline points="433.5,925.89 442.39,933.02 460.17,947.29 495.73,922.32 522.4,941.34 557.96,947.29" fill="none" stroke="#e52a1b" stroke-width="2.6" stroke-linejoin="round" stroke-dasharray="7.2 4.6"/>
<polyline points="433.5,934.21 442.39,937.78 460.17,924.1 522.4,950.85 557.96,952.64" fill="none" stroke="#e52a1b" stroke-width="2.6" stroke-linejoin="round" stroke-dasharray="7.2 4.6"/>
<polyline points="433.5,822.44 442.39,903.29 460.17,875.35 495.73,881.89 522.4,853.36 566.85,927.07 620.19,935.99 700.2,942.53" fill="none" stroke="#e52a1b" stroke-width="2.6" stroke-linejoin="round"/>
<polyline points="433.5,948.48 442.39,952.04 460.17,911.62 495.73,837.9 522.4,929.45 566.85,938.96 700.2,937.78" fill="none" stroke="#e52a1b" stroke-width="2.6" stroke-linejoin="round"/>
<rect x="430.5" y="922.89" width="6" height="6" fill="#fff" stroke="#e52a1b" stroke-width="2.7"/>
<rect x="439.39" y="930.02" width="6" height="6" fill="#fff" stroke="#e52a1b" stroke-width="2.7"/>
<rect x="457.17" y="944.29" width="6" height="6" fill="#fff" stroke="#e52a1b" stroke-width="2.7"/>
<rect x="492.73" y="919.32" width="6" height="6" fill="#fff" stroke="#e52a1b" stroke-width="2.7"/>
<rect x="519.4" y="938.34" width="6" height="6" fill="#fff" stroke="#e52a1b" stroke-width="2.7"/>
<rect x="554.96" y="944.29" width="6" height="6" fill="#fff" stroke="#e52a1b" stroke-width="2.7"/>
<circle cx="433.5" cy="934.21" r="3" fill="#fff" stroke="#e52a1b" stroke-width="2.7"/>
<circle cx="442.39" cy="937.78" r="3" fill="#fff" stroke="#e52a1b" stroke-width="2.7"/>
<circle cx="460.17" cy="924.1" r="3" fill="#fff" stroke="#e52a1b" stroke-width="2.7"/>
<circle cx="522.4" cy="950.85" r="3" fill="#fff" stroke="#e52a1b" stroke-width="2.7"/>
<circle cx="557.96" cy="952.64" r="3" fill="#fff" stroke="#e52a1b" stroke-width="2.7"/>
<rect x="429.7" y="818.64" width="7.6" height="7.6" fill="#e52a1b"/>
<rect x="438.59" y="899.5" width="7.6" height="7.6" fill="#e52a1b"/>
<rect x="456.37" y="871.55" width="7.6" height="7.6" fill="#e52a1b"/>
<rect x="491.93" y="878.09" width="7.6" height="7.6" fill="#e52a1b"/>
<rect x="518.6" y="849.56" width="7.6" height="7.6" fill="#e52a1b"/>
<rect x="563.05" y="923.27" width="7.6" height="7.6" fill="#e52a1b"/>
<rect x="616.39" y="932.19" width="7.6" height="7.6" fill="#e52a1b"/>
<rect x="696.4" y="938.73" width="7.6" height="7.6" fill="#e52a1b"/>
<circle cx="433.5" cy="948.48" r="3.9" fill="#e52a1b"/>
<circle cx="442.39" cy="952.04" r="3.9" fill="#e52a1b"/>
<circle cx="460.17" cy="911.62" r="3.9" fill="#e52a1b"/>
<circle cx="495.73" cy="837.9" r="3.9" fill="#e52a1b"/>
<circle cx="522.4" cy="929.45" r="3.9" fill="#e52a1b"/>
<circle cx="566.85" cy="938.96" r="3.9" fill="#e52a1b"/>
<circle cx="700.2" cy="937.78" r="3.9" fill="#e52a1b"/>
<line x1="247" y1="64.3" x2="266.1" y2="64.3" stroke="#000" stroke-width="2.2"/>
<circle cx="257" cy="64.3" r="3.43" fill="#000"/>
<text x="276" y="68.9" font-size="12.8" font-weight="normal" fill="#111">R62201</text>
<line x1="247" y1="87.05" x2="266.1" y2="87.05" stroke="#000" stroke-width="2.2"/>
<rect x="253.66" y="83.71" width="6.69" height="6.69" fill="#000"/>
<text x="276" y="91.65" font-size="12.8" font-weight="normal" fill="#111">R20865</text>
<line x1="247" y1="109.8" x2="266.1" y2="109.8" stroke="#000" stroke-width="2.2"/>
<path d="M257 107.25L259.55 109.8L257 112.35L254.45 109.8Z" fill="#fff" stroke="#000" stroke-width="2.64" stroke-linejoin="round"/>
<text x="276" y="114.4" font-size="12.8" font-weight="normal" fill="#111">C84545</text>
<line x1="247" y1="132.55" x2="266.1" y2="132.55" stroke="#000" stroke-width="2.2"/>
<circle cx="257" cy="132.55" r="2.64" fill="#fff" stroke="#000" stroke-width="2.38"/>
<text x="276" y="137.15" font-size="12.8" font-weight="normal" fill="#111">C91638</text>
<line x1="247" y1="155.3" x2="266.1" y2="155.3" stroke="#000" stroke-width="2.2"/>
<rect x="254.36" y="152.66" width="5.28" height="5.28" fill="#fff" stroke="#000" stroke-width="2.38"/>
<text x="276" y="159.9" font-size="12.8" font-weight="normal" fill="#111">C46456</text>
<line x1="253.4" y1="282.8" x2="272.7" y2="282.8" stroke="#e52a1b" stroke-width="2.2"/>
<circle cx="262.8" cy="282.8" r="3.43" fill="#e52a1b"/>
<text x="282" y="287.4" font-size="12.8" font-weight="normal" fill="#111">R25671</text>
<line x1="253.4" y1="306.1" x2="272.7" y2="306.1" stroke="#e52a1b" stroke-width="2.2"/>
<rect x="259.46" y="302.76" width="6.69" height="6.69" fill="#e52a1b"/>
<text x="282" y="310.7" font-size="12.8" font-weight="normal" fill="#111">R64357</text>
<line x1="253.4" y1="329.4" x2="272.7" y2="329.4" stroke="#e52a1b" stroke-width="2.2"/>
<circle cx="262.8" cy="329.4" r="2.64" fill="#fff" stroke="#e52a1b" stroke-width="2.38"/>
<text x="282" y="334" font-size="12.8" font-weight="normal" fill="#111">C78777</text>
<line x1="253.4" y1="352.7" x2="272.7" y2="352.7" stroke="#e52a1b" stroke-width="2.2"/>
<rect x="260.16" y="350.06" width="5.28" height="5.28" fill="#fff" stroke="#e52a1b" stroke-width="2.38"/>
<text x="282" y="357.3" font-size="12.8" font-weight="normal" fill="#111">C18942</text>
<g font-weight="normal" fill="#111">
<text x="3.6" y="15.8" font-size="17.5">a</text>
<text x="392.5" y="16.8" font-size="18">b</text>
<text x="3.4" y="526.8" font-size="18">c</text>
<text x="392.3" y="527.4" font-size="18">d</text>
<text x="89.2" y="24.8" font-size="17.6" textLength="160.2" lengthAdjust="spacingAndGlyphs">monocyte activation</text>
<text x="441.3" y="24.6" font-size="17.6" textLength="227.3" lengthAdjust="spacingAndGlyphs">classical monocyte frequency</text>
<text x="51.6" y="534.8" font-size="17.6" textLength="265.9" lengthAdjust="spacingAndGlyphs">intermediate monocyte frequency</text>
<text x="436.7" y="534.8" font-size="17.6" textLength="258.5" lengthAdjust="spacingAndGlyphs">nonclassical monocyte frequency</text>
</g>
<line x1="24" y1="30.5" x2="319" y2="30.5" stroke="#000" stroke-width="1.9"/>
<line x1="403.5" y1="30.2" x2="691.8" y2="30.2" stroke="#000" stroke-width="1.9"/>
<line x1="32.4" y1="541.3" x2="320.4" y2="541.3" stroke="#000" stroke-width="1.9"/>
<line x1="410.7" y1="541.3" x2="704.8" y2="541.3" stroke="#000" stroke-width="1.9"/>
</svg>
</body></html>
